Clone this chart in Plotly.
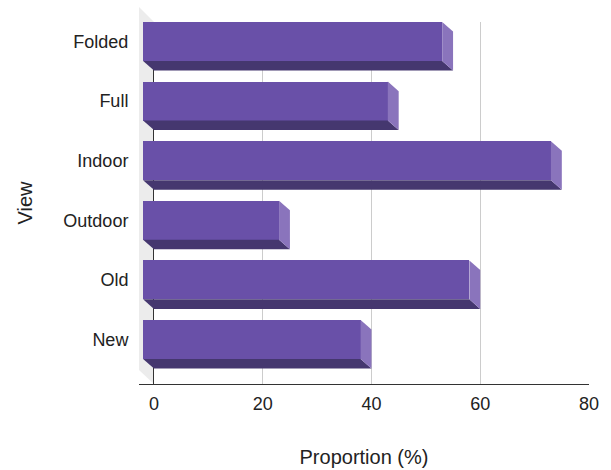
import plotly.graph_objects as go

categories = ["Folded", "Full", "Indoor", "Outdoor", "Old", "New"]
values = [55, 45, 75, 25, 60, 40]
x_ticks = [0, 20, 40, 60, 80]

FRONT = "#6950a8"
BOTTOM = "#45376f"
SIDE = "#8a74bc"

n = len(categories)
ypos = [n - 1 - i for i in range(n)]
half = 0.327      # half height of front face (category units)
dx = 2.0          # depth offset in x (value units)
dy = 0.16         # depth offset in y (category units)

fig = go.Figure()

# front faces as bars
fig.add_trace(go.Bar(
    y=ypos, x=values, base=[-dx] * n, orientation="h",
    width=2 * half, marker=dict(color=FRONT, line=dict(width=0)),
    hoverinfo="skip", showlegend=False,
))

for v, k in zip(values, ypos):
    kt, kb = k + half, k - half
    # bottom face
    fig.add_trace(go.Scatter(
        x=[-dx, v - dx, v, 0, -dx], y=[kb, kb, kb - dy, kb - dy, kb],
        fill="toself", fillcolor=BOTTOM, mode="lines",
        line=dict(width=0, color=BOTTOM), hoverinfo="skip", showlegend=False,
    ))
    # side face
    fig.add_trace(go.Scatter(
        x=[v - dx, v, v, v - dx, v - dx], y=[kt, kt - dy, kb - dy, kb, kt],
        fill="toself", fillcolor=SIDE, mode="lines",
        line=dict(width=0, color=SIDE), hoverinfo="skip", showlegend=False,
    ))

# left wall (decoration)
fig.add_shape(type="path", xref="paper", yref="paper",
              path="M 0,1.0414 L 0.0333,1 L 0.0333,0 L 0,0.0387 Z",
              fillcolor="#ececec", line=dict(width=0), layer="below")

font = "Liberation Sans, Arial, sans-serif"
fig.update_layout(
    width=611, height=470,
    margin=dict(l=139, r=22, t=22, b=86, autoexpand=False),
    paper_bgcolor="white", plot_bgcolor="rgba(0,0,0,0)",
    font=dict(family=font, size=18, color="#222222"),
    bargap=0,
    xaxis=dict(
        range=[-2.755, 80], tickvals=x_ticks, ticktext=[str(t) for t in x_ticks],
        showgrid=True, gridcolor="#cccccc", gridwidth=1,
        zeroline=True, zerolinecolor="#333333", zerolinewidth=1,
        showline=True, linecolor="#333333", linewidth=1,
        ticks="outside", ticklen=3, tickcolor="rgba(0,0,0,0)",
        tickfont=dict(size=18, color="#222222"),
        title=dict(text="Proportion (%)", font=dict(size=20, color="#222222"), standoff=37),
        automargin=False, fixedrange=True,
    ),
    yaxis=dict(
        range=[-0.747, 5.327], tickvals=ypos, ticktext=categories,
        showgrid=False, zeroline=False, showline=False,
        ticks="outside", ticklen=6, tickcolor="rgba(0,0,0,0)",
        tickfont=dict(size=18, color="#222222"),
        title=dict(text="View", font=dict(size=20, color="#222222"), standoff=25),
        automargin=False, fixedrange=True,
    ),
)

fig.write_html("out.html")
